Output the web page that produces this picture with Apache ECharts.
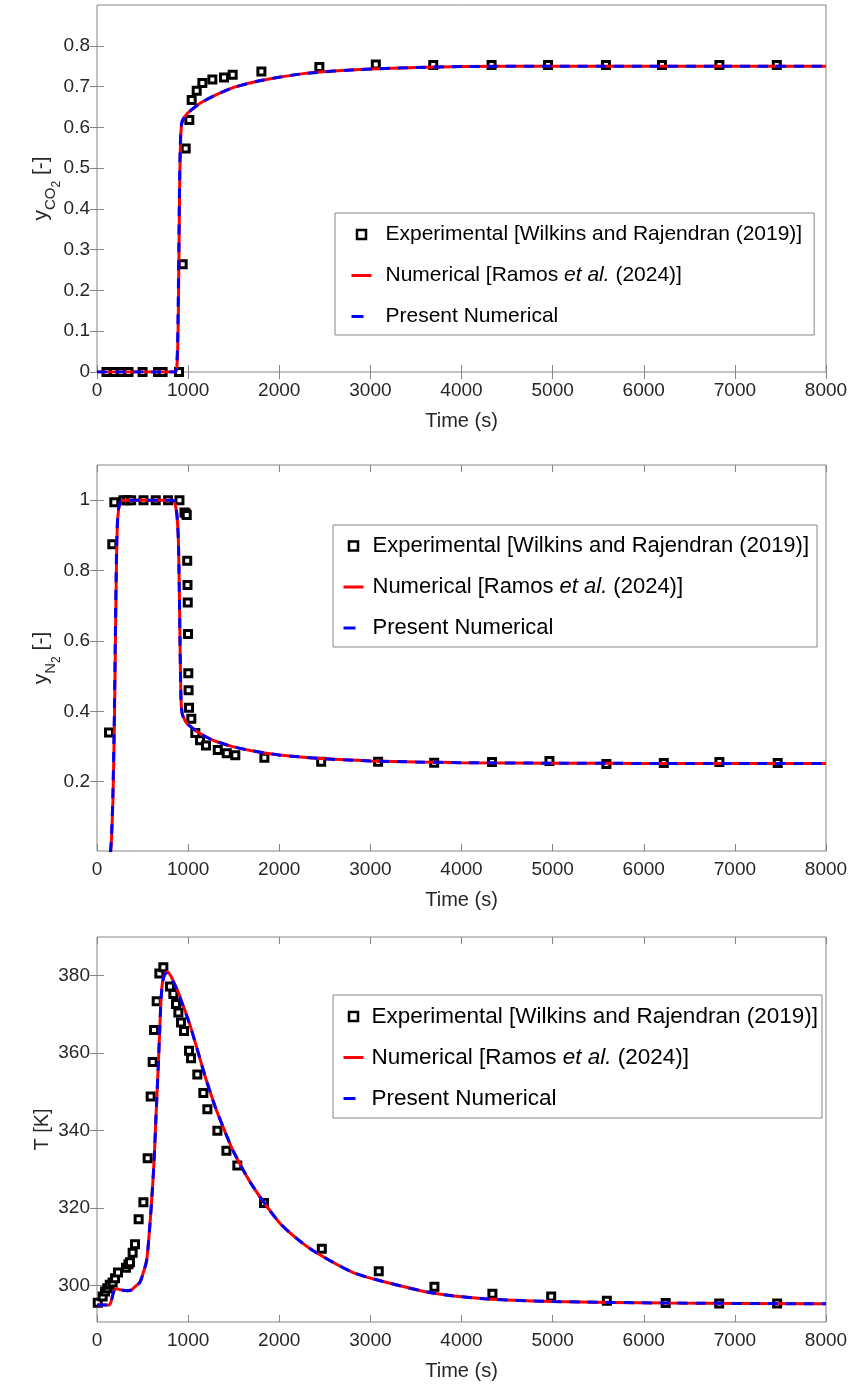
<!DOCTYPE html>
<html>
<head>
<meta charset="utf-8">
<script src="https://cdn.jsdelivr.net/npm/echarts@6/dist/echarts.min.js"></script>
<style>
html, body { margin: 0; padding: 0; background: #fff; }
#chart { width: 852px; height: 1384px; }
</style>
</head>
<body>
<div id="chart"></div>
<script>
// ---- panel 1 : y_CO2 ----
var co2ExpTime = [104, 187, 264, 346, 500, 670, 720, 900, 940, 973, 1013, 1039, 1094, 1156, 1266, 1394, 1489, 1804, 2440, 3060, 3690, 4330, 4950, 5585, 6200, 6830, 7460];
var co2ExpVal  = [0, 0, 0, 0, 0, 0, 0, 0, 0.264, 0.548, 0.618, 0.667, 0.69, 0.709, 0.717, 0.722, 0.729, 0.737, 0.748, 0.754, 0.753, 0.753, 0.753, 0.753, 0.753, 0.753, 0.753];
var co2RamosTime = [0, 860, 875, 885, 893, 900, 907, 915, 925, 940, 970, 1000, 1131, 1300, 1500, 1800, 2228, 2600, 3000, 3500, 4000, 5000, 8000];
var co2RamosVal  = [0, 0, 0.01, 0.05, 0.15, 0.3, 0.45, 0.55, 0.6, 0.618, 0.628, 0.636, 0.659, 0.679, 0.698, 0.715, 0.7305, 0.738, 0.743, 0.747, 0.749, 0.75, 0.75];
var co2PresTime = [0, 855, 870, 882, 890, 898, 905, 913, 923, 938, 970, 1000, 1131, 1300, 1500, 1800, 2228, 2600, 3000, 3500, 4000, 5000, 8000];
var co2PresVal  = [0, 0, 0.01, 0.05, 0.15, 0.3, 0.45, 0.55, 0.6, 0.617, 0.628, 0.636, 0.659, 0.679, 0.698, 0.715, 0.7305, 0.738, 0.743, 0.747, 0.749, 0.75, 0.75];

// ---- panel 2 : y_N2 ----
var n2ExpTime = [132, 168, 190, 290, 330, 375, 510, 645, 780, 905, 960, 975, 985, 990, 993, 996, 999, 1002, 1005, 1010, 1035, 1079, 1131, 1196, 1325, 1424, 1518, 1837, 2460, 3085, 3700, 4335, 4965, 5590, 6220, 6830, 7470];
var n2ExpVal  = [0.34, 0.875, 0.994, 1.0, 1.0, 1.0, 1.0, 1.0, 1.0, 1.0, 0.965, 0.962, 0.958, 0.828, 0.759, 0.709, 0.62, 0.508, 0.46, 0.41, 0.379, 0.338, 0.318, 0.303, 0.29, 0.281, 0.275, 0.268, 0.257, 0.257, 0.254, 0.256, 0.259, 0.25, 0.253, 0.256, 0.253];
var n2RamosTime = [150, 160, 175, 190, 200, 210, 220, 235, 260, 300, 830, 850, 868, 880, 893, 903, 911, 918, 924, 935, 947, 970, 1000, 1100, 1200, 1300, 1500, 1700, 2000, 2500, 3000, 3500, 4000, 5000, 6000, 8000];
var n2RamosVal  = [0.0, 0.04, 0.15, 0.35, 0.55, 0.75, 0.9, 0.97, 0.995, 1.0, 1.0, 0.995, 0.975, 0.95, 0.887, 0.75, 0.6, 0.48, 0.42, 0.395, 0.385, 0.372, 0.362, 0.342, 0.327, 0.315, 0.299, 0.288, 0.276, 0.265, 0.259, 0.256, 0.254, 0.2525, 0.252, 0.252];
var n2PresTime = [148, 158, 173, 188, 198, 208, 218, 233, 258, 300, 830, 850, 868, 880, 893, 903, 911, 918, 924, 935, 947, 970, 1000, 1100, 1200, 1300, 1500, 1700, 2000, 2500, 3000, 3500, 4000, 5000, 6000, 8000];
var n2PresVal  = [0.0, 0.04, 0.15, 0.35, 0.55, 0.75, 0.9, 0.97, 0.995, 1.0, 1.0, 0.995, 0.975, 0.95, 0.887, 0.75, 0.6, 0.48, 0.42, 0.392, 0.383, 0.371, 0.362, 0.342, 0.327, 0.315, 0.299, 0.288, 0.276, 0.265, 0.259, 0.256, 0.254, 0.2525, 0.252, 0.252];

// ---- panel 3 : T ----
var tExpTime = [8, 62, 88, 113, 140, 172, 198, 230, 318, 345, 362, 391, 417, 457, 509, 556, 589, 611, 626, 655, 684, 728, 801, 838, 867, 893, 922, 955, 1010, 1032, 1101, 1167, 1211, 1321, 1420, 1540, 1833, 2467, 3092, 3703, 4339, 4984, 5595, 6241, 6828, 7464];
var tExpVal  = [295.6, 297.2, 298.5, 299.3, 300.2, 300.8, 301.9, 303.4, 304.6, 305.5, 306, 308.5, 310.7, 317.1, 321.5, 332.9, 348.8, 357.7, 366, 373.4, 380.6, 382.2, 377.2, 375.3, 372.7, 370.5, 367.9, 365.7, 360.6, 358.7, 354.5, 349.7, 345.5, 340, 334.8, 331, 321.3, 309.5, 303.7, 299.7, 297.9, 297.2, 296.1, 295.5, 295.4, 295.4];
var tRamosTime = [0, 130, 150, 170, 190, 220, 260, 330, 380, 420, 470, 510, 545, 575, 600, 626, 650, 673, 690, 703, 720, 745, 770, 800, 850, 900, 950, 1000, 1050, 1100, 1200, 1300, 1400, 1500, 1700, 2000, 2200, 2400, 2800, 3150, 3700, 4250, 5000, 6250, 8000];
var tRamosVal  = [295, 295, 295.5, 297.5, 298.9, 299.2, 298.9, 298.7, 298.9, 299.8, 300.8, 303.5, 306.5, 314, 322, 332, 345, 357, 367, 374, 378.5, 380.5, 381, 380.3, 378, 375.2, 372, 368.8, 365, 361, 353, 346, 340, 334.5, 326, 316.3, 312, 308.6, 303.5, 301, 298, 296.6, 295.9, 295.5, 295.3];
var tPresTime = [0, 130, 150, 170, 190, 220, 260, 330, 380, 420, 470, 510, 545, 575, 600, 626, 650, 673, 690, 703, 720, 740, 760, 790, 850, 900, 950, 1000, 1050, 1100, 1200, 1300, 1400, 1500, 1700, 2000, 2200, 2400, 2800, 3150, 3700, 4250, 5000, 6250, 8000];
var tPresVal  = [295, 295, 295.3, 297.2, 298.8, 299.1, 298.9, 298.7, 298.9, 299.8, 300.8, 303.5, 306.5, 314, 322, 332, 345, 357, 367, 374, 378.3, 380.2, 380.6, 380, 377.8, 375, 371.8, 368.6, 365, 361, 353, 346, 340, 334.5, 326, 316.3, 312, 308.6, 303.5, 301, 298, 296.6, 295.9, 295.5, 295.3];

var co2Ticks = [0, 0.1, 0.2, 0.3, 0.4, 0.5, 0.6, 0.7, 0.8];
var n2Ticks = [0.2, 0.4, 0.6, 0.8, 1];
var tTicks = [300, 320, 340, 360, 380];

var NAME_EXP = 'Experimental [Wilkins and Rajendran (2019)]';
var NAME_RAMOS = 'Numerical [Ramos et al. (2024)]';
var NAME_PRES = 'Present Numerical';

var AX = '#868686';
var TXT = '#262626';
var FONT = '"Liberation Sans", Arial, Helvetica, sans-serif';

function zip(t, v) {
  return t.map(function (x, i) { return [x, v[i]]; });
}

function fmtNum(v) {
  return String(Math.round(v * 1000) / 1000);
}

var grids = [
  { left: 97, right: 26, top: 5, height: 367 },
  { left: 97, right: 26, top: 465, height: 386 },
  { left: 97, right: 26, top: 937, height: 385 }
];

var yRanges = [
  { min: 0, max: 0.9, ticks: co2Ticks },
  { min: 0.003, max: 1.1, ticks: n2Ticks },
  { min: 290.6, max: 390, ticks: tTicks }
];

// subscripts: everything hangs from the line top, subscripts pushed down with padding
var subRich = {
  b: { fontSize: 21, lineHeight: 22, fontFamily: FONT, color: TXT, verticalAlign: 'top' },
  s: { fontSize: 15, lineHeight: 15, fontFamily: FONT, color: TXT, verticalAlign: 'top', padding: [12, 0, 0, 0] },
  ss: { fontSize: 12, lineHeight: 12, fontFamily: FONT, color: TXT, verticalAlign: 'top', padding: [20, 0, 0, 0] }
};

var yNames = [
  { name: '{b|y}{s|CO}{ss|2}{b| [-]}', gap: 44, rich: subRich },
  { name: '{b|y}{s|N}{ss|2}{b| [-]}', gap: 44, rich: subRich },
  { name: 'T [K]', gap: 45, rich: null }
];

// legend box per panel (the three panels were exported at slightly different scales)
var legendBoxes = [
  { left: 335, top: 213, font: 21, pad: [11, 12, 8, 15], textPad: 9, gap: 20 },
  { left: 333, top: 525, font: 22, pad: [10, 8, 8, 9], textPad: 4, gap: 19 },
  { left: 333, top: 995, font: 22.5, pad: [10, 4, 8, 9], textPad: 3, gap: 18 }
];

var xAxes = [], yAxes = [], series = [], legends = [];

grids.forEach(function (g, gi) {
  g.show = true;
  g.borderColor = AX;
  g.borderWidth = 1;
  g.containLabel = false;

  var tick = { show: true, inside: true, length: 7, lineStyle: { color: AX, width: 1 } };
  xAxes.push({
    type: 'value', gridIndex: gi, position: 'bottom', min: 0, max: 8000, interval: 1000,
    axisLine: { show: false }, splitLine: { show: false }, axisTick: tick,
    axisLabel: { color: TXT, fontSize: 19, fontFamily: FONT, margin: 9, showMinLabel: true, showMaxLabel: true,
      formatter: function (v) { return String(v); } },
    name: 'Time (s)', nameLocation: 'middle', nameGap: 39, nameMoveOverlap: false,
    nameTextStyle: { color: TXT, fontSize: 20, fontFamily: FONT }
  });
  xAxes.push({
    type: 'value', gridIndex: gi, position: 'top', min: 0, max: 8000, interval: 1000,
    axisLine: { show: false }, splitLine: { show: false }, axisTick: tick, axisLabel: { show: false }
  });

  var r = yRanges[gi];
  var yn = yNames[gi];
  var nameStyle = { color: TXT, fontSize: 20, fontFamily: FONT };
  if (yn.rich) nameStyle.rich = yn.rich;
  yAxes.push({
    type: 'value', gridIndex: gi, position: 'left', min: r.min, max: r.max,
    axisLine: { show: false }, splitLine: { show: false },
    axisTick: { show: true, inside: true, length: 7, lineStyle: { color: AX, width: 1 }, customValues: r.ticks },
    axisLabel: { color: TXT, fontSize: 19, fontFamily: FONT, margin: 7, customValues: r.ticks, formatter: fmtNum },
    name: yn.name, nameLocation: 'middle', nameRotate: 90, nameGap: yn.gap, nameMoveOverlap: false,
    nameTextStyle: nameStyle
  });
  yAxes.push({
    type: 'value', gridIndex: gi, position: 'right', min: r.min, max: r.max,
    axisLine: { show: false }, splitLine: { show: false },
    axisTick: { show: true, inside: true, length: 7, lineStyle: { color: AX, width: 1 }, customValues: r.ticks },
    axisLabel: { show: false, customValues: r.ticks }
  });

  var lb = legendBoxes[gi];
  var hideDot = { color: 'rgba(0,0,0,0)', borderWidth: 0, opacity: 0 };
  legends.push({
    orient: 'vertical', left: lb.left, top: lb.top,
    padding: lb.pad, itemGap: lb.gap, itemWidth: 20, itemHeight: 9,
    backgroundColor: '#fff', borderColor: AX, borderWidth: 1,
    selectedMode: false,
    textStyle: { color: '#000', fontSize: lb.font, fontFamily: FONT, padding: [0, 0, 0, lb.textPad],
      rich: { it: { fontStyle: 'italic', fontSize: lb.font, fontFamily: FONT, color: '#000' } } },
    formatter: function (n) { return n.replace('et al.', '{it|et al.}'); },
    data: [
      { name: NAME_EXP, icon: 'path://M0,0H10V10H0Z', itemStyle: { color: '#fff', borderColor: '#000', borderWidth: 2.5 } },
      { name: NAME_RAMOS, itemStyle: hideDot, lineStyle: { color: '#ff0000', width: 3, type: 'solid' } },
      { name: NAME_PRES, itemStyle: hideDot, lineStyle: { color: '#0000ff', width: 3, type: [12, 20] } }
    ]
  });
});

var panelData = [
  [zip(co2ExpTime, co2ExpVal), zip(co2RamosTime, co2RamosVal), zip(co2PresTime, co2PresVal)],
  [zip(n2ExpTime, n2ExpVal), zip(n2RamosTime, n2RamosVal), zip(n2PresTime, n2PresVal)],
  [zip(tExpTime, tExpVal), zip(tRamosTime, tRamosVal), zip(tPresTime, tPresVal)]
];

panelData.forEach(function (d, gi) {
  series.push({
    name: NAME_EXP, type: 'scatter', xAxisIndex: gi * 2, yAxisIndex: gi * 2,
    symbol: 'rect', symbolSize: 7, z: 2,
    itemStyle: { color: '#fff', borderColor: '#000', borderWidth: 3, opacity: 1 },
    data: d[0]
  });
  series.push({
    name: NAME_RAMOS, type: 'line', xAxisIndex: gi * 2, yAxisIndex: gi * 2,
    symbol: 'none', showSymbol: false, z: 3, smooth: 0.25,
    itemStyle: { color: '#ff0000' },
    lineStyle: { color: '#ff0000', width: 3 },
    data: d[1]
  });
  series.push({
    name: NAME_PRES, type: 'line', xAxisIndex: gi * 2, yAxisIndex: gi * 2,
    symbol: 'none', showSymbol: false, z: 4, smooth: 0.25,
    itemStyle: { color: '#0000ff' },
    lineStyle: { color: '#0000ff', width: 3, type: [10, 8] },
    data: d[2]
  });
});

var chart = echarts.init(document.getElementById('chart'));
chart.setOption({
  animation: false,
  backgroundColor: '#fff',
  grid: grids,
  xAxis: xAxes,
  yAxis: yAxes,
  legend: legends,
  series: series
});
</script>
</body>
</html>
